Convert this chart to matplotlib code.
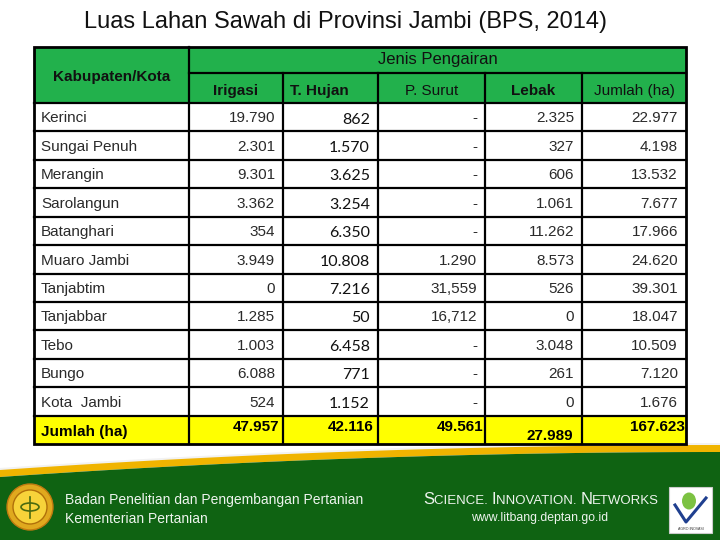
import matplotlib
matplotlib.use("Agg")
import matplotlib.pyplot as plt
from matplotlib.patches import Rectangle, Polygon, Circle, Ellipse
from matplotlib.offsetbox import TextArea, HPacker, AnnotationBbox
import numpy as np

# ---------------- data ----------------
title = "Luas Lahan Sawah di Provinsi Jambi (BPS, 2014)"
group_header = "Jenis Pengairan"
row_header = "Kabupaten/Kota"
columns = ["Irigasi", "T. Hujan", "P. Surut", "Lebak", "Jumlah (ha)"]
districts = ["Kerinci", "Sungai Penuh", "Merangin", "Sarolangun", "Batanghari",
             "Muaro Jambi", "Tanjabtim", "Tanjabbar", "Tebo", "Bungo", "Kota  Jambi"]
irigasi = ["19.790", "2.301", "9.301", "3.362", "354", "3.949", "0", "1.285", "1.003", "6.088", "524"]
t_hujan = ["862", "1.570", "3.625", "3.254", "6.350", "10.808", "7.216", "50", "6.458", "771", "1.152"]
p_surut = ["-", "-", "-", "-", "-", "1.290", "31,559", "16,712", "-", "-", "-"]
lebak = ["2.325", "327", "606", "1.061", "11.262", "8.573", "526", "0", "3.048", "261", "0"]
jumlah = ["22.977", "4.198", "13.532", "7.677", "17.966", "24.620", "39.301", "18.047", "10.509", "7.120", "1.676"]
total_label = "Jumlah (ha)"
totals = ["47.957", "42.116", "49.561", "27.989", "167.623"]

footer_left = ["Badan Penelitian dan Pengembangan Pertanian", "Kementerian Pertanian"]
footer_url = "www.litbang.deptan.go.id"

# ---------------- layout ----------------
W, H = 720, 540
fig = plt.figure(figsize=(7.2, 5.4), dpi=100)
ax = fig.add_axes([0, 0, 1, 1])
ax.set_xlim(0, W)
ax.set_ylim(H, 0)
ax.axis("off")

SANS = "Liberation Sans"
x_edges = [34, 189, 283, 378, 485, 582, 686]
y_top, y_mid, y_head = 47, 73, 103
n_rows = len(districts) + 1
y_bottom = 444
row_h = (y_bottom - y_head) / n_rows
GREEN = "#22b14c"
YELLOW = "#ffff00"
head_weight = ["bold", "bold", "normal", "bold", "normal"]
head_align = ["center", "left", "center", "center", "center"]

# title
ax.text(345, 28, title, fontsize=17, family=SANS, ha="center", va="baseline", color="#111111")

# header background
ax.add_patch(Rectangle((x_edges[0], y_top), x_edges[-1] - x_edges[0], y_head - y_top,
                       facecolor=GREEN, edgecolor="none", zorder=1))
# total row background
ax.add_patch(Rectangle((x_edges[0], y_head + row_h * (n_rows - 1)), x_edges[-1] - x_edges[0], row_h,
                       facecolor=YELLOW, edgecolor="none", zorder=1))

lw = 1.6
ax.add_patch(Rectangle((x_edges[0], y_top), x_edges[-1] - x_edges[0], y_bottom - y_top,
                       facecolor="none", edgecolor="black", lw=2.0, zorder=3))
ax.plot([x_edges[1], x_edges[-1]], [y_mid, y_mid], color="black", lw=lw, zorder=3)
for i in range(n_rows):
    y = y_head + i * row_h
    ax.plot([x_edges[0], x_edges[-1]], [y, y], color="black", lw=lw, zorder=3)
ax.plot([x_edges[1]] * 2, [y_top, y_bottom], color="black", lw=lw, zorder=3)
for xe in x_edges[2:-1]:
    ax.plot([xe, xe], [y_mid, y_bottom], color="black", lw=lw, zorder=3)

# header texts
ax.text((x_edges[0] + x_edges[1]) / 2, 81, row_header, fontsize=11, family=SANS, weight="bold",
        ha="center", va="baseline", color="#111111", zorder=4)
ax.text((x_edges[1] + x_edges[-1]) / 2, 64, group_header, fontsize=12, family=SANS,
        ha="center", va="baseline", color="#111111", zorder=4)
for j, c in enumerate(columns):
    if head_align[j] == "left":
        cx = x_edges[j + 1] + 7
    else:
        cx = (x_edges[j + 1] + x_edges[j + 2]) / 2
    ax.text(cx, 95, c, fontsize=11, family=SANS, weight=head_weight[j], ha=head_align[j],
            va="baseline", color="#111111", zorder=4)

# body
series = [irigasi, t_hujan, p_surut, lebak, jumlah]
for i, name in enumerate(districts):
    ytop = y_head + i * row_h
    ax.text(x_edges[0] + 7, ytop + 19.5, name, fontsize=11, family=SANS,
            ha="left", va="baseline", color="#2a2a2a", zorder=4)
    for j, ser in enumerate(series):
        xr = x_edges[j + 2] - 8
        if j == 1:
            ax.text(xr, ytop + 20.5, ser[i], fontsize=11.5, family="Lato",
                    ha="right", va="baseline", color="#111111", zorder=4)
        else:
            ax.text(xr, ytop + 19.5, ser[i], fontsize=11, family=SANS,
                    ha="right", va="baseline", color="#2a2a2a", zorder=4)

# totals row
ytop = y_head + (n_rows - 1) * row_h
ax.text(x_edges[0] + 7, ytop + 20.5, total_label, fontsize=11, family=SANS, weight="bold",
        ha="left", va="baseline", color="black", zorder=4)
tot_pad = [4, 5, 2, 9, 1]
tot_off = [15.5, 15.5, 15.5, 24.5, 15.5]
for j, v in enumerate(totals):
    ax.text(x_edges[j + 2] - tot_pad[j], ytop + tot_off[j], v, fontsize=11, family=SANS,
            weight="bold", ha="right", va="baseline", color="black", zorder=4)

# ---------------- footer ----------------
xs = np.linspace(0, W, 200)
top = 452 + 25 * (1 - xs / W) ** 2
ax.add_patch(Polygon(np.column_stack([np.r_[xs, xs[::-1]], np.r_[top - 9, top[::-1] - 2]]),
                     closed=True, facecolor="#f2f2f2", edgecolor="none", zorder=1))
ax.add_patch(Polygon(np.column_stack([np.r_[xs, xs[::-1]], np.r_[top - 7, top[::-1]]]),
                     closed=True, facecolor="#f0b400", edgecolor="none", zorder=2))
ax.add_patch(Polygon(np.column_stack([np.r_[xs, W, 0], np.r_[top, H, H]]),
                     closed=True, facecolor="#0f6312", edgecolor="none", zorder=2))

# left emblem
ax.add_patch(Circle((30, 507), 23, facecolor="#e0a91e", edgecolor="#c07a10", lw=1, zorder=3))
ax.add_patch(Circle((30, 507), 17, facecolor="#f7d33a", edgecolor="#b0700a", lw=1, zorder=4))
ax.add_patch(Ellipse((30, 507), 18, 8, facecolor="none", edgecolor="#4a6a10", lw=1.2, zorder=5))
ax.plot([30, 30], [497, 518], color="#4a6a10", lw=1.2, zorder=5)

ax.text(65, 504, footer_left[0], fontsize=10, family=SANS, ha="left", va="baseline",
        color="#eef4ee", zorder=5)
ax.text(65, 523, footer_left[1], fontsize=10, family=SANS, ha="left", va="baseline",
        color="#eef4ee", zorder=5)

parts = [("S", 12), ("CIENCE. ", 9.5), ("I", 12), ("NNOVATION. ", 9.5), ("N", 12), ("ETWORKS", 9.5)]
boxes = [TextArea(t, textprops=dict(fontsize=s, family=SANS, color="#eef4ee")) for t, s in parts]
pack = HPacker(children=boxes, align="baseline", pad=0, sep=0)
ab = AnnotationBbox(pack, (423, 499), xycoords="data", box_alignment=(0, 0.5), frameon=False,
                    pad=0, zorder=5)
ax.add_artist(ab)
ax.text(540, 521, footer_url, fontsize=8.8, family=SANS, ha="center", va="baseline",
        color="#eef4ee", zorder=5)

# right logo
ax.add_patch(Rectangle((669, 487), 43, 46, facecolor="white", edgecolor="#cccccc", lw=0.8, zorder=3))
ax.add_patch(Ellipse((689, 501), 14, 17, facecolor="#7cc242", edgecolor="none", zorder=4))
ax.plot([675, 686, 706], [505, 522, 498], color="#1f3f8f", lw=2.2, zorder=5)
ax.text(690.5, 530, "AGRO INOVASI", fontsize=2.6, family=SANS, ha="center", va="baseline",
        color="#333333", zorder=5)

fig.savefig("out.png", dpi=100)
